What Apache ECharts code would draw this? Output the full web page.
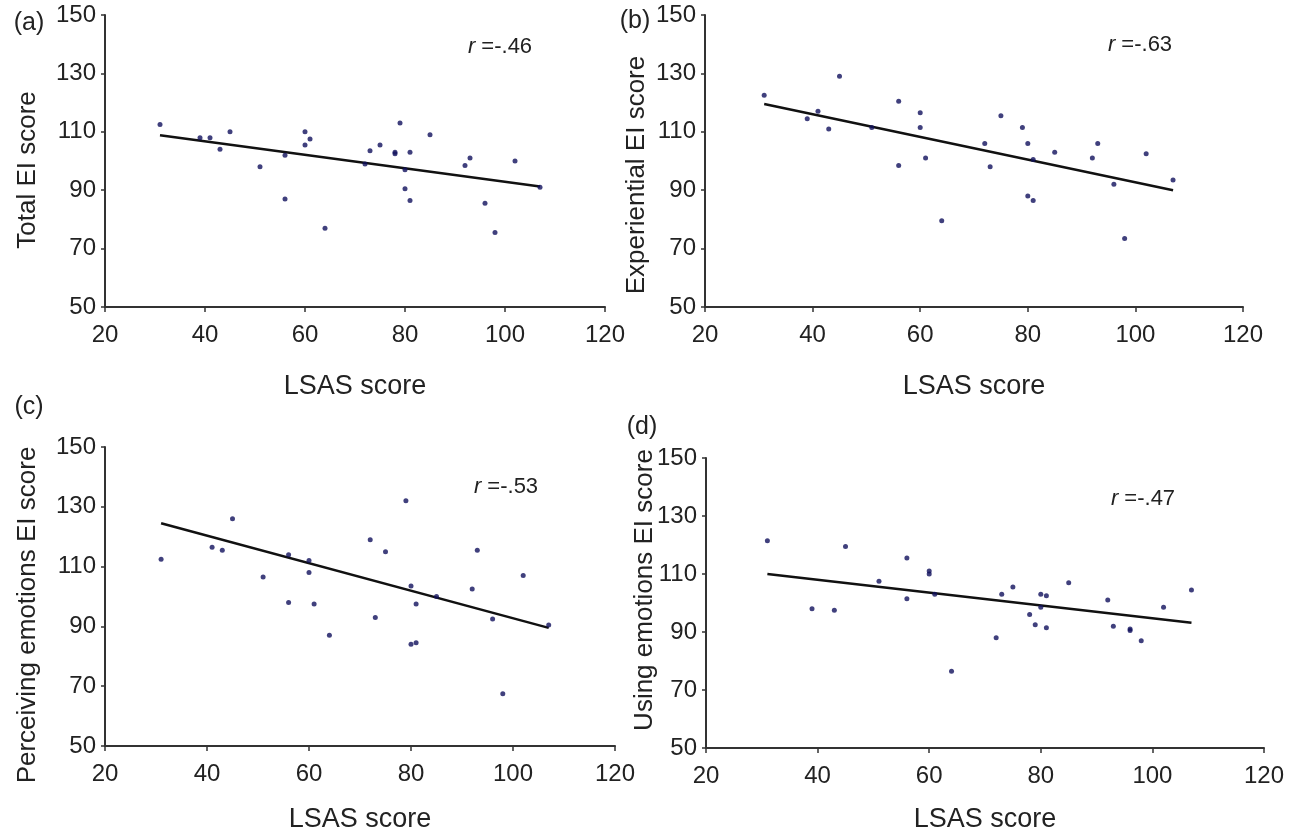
<!DOCTYPE html>
<html>
<head>
<meta charset="utf-8">
<script src="https://cdn.jsdelivr.net/npm/echarts@6/dist/echarts.min.js"></script>
<style>
  html, body { margin: 0; background: #fff; }
  #chart { width: 1293px; height: 834px; }
</style>
</head>
<body>
<div id="chart"></div>
<script>
// LSAS score (x) against EI score (y), one list per panel
var totalEI = [[31,112.5],[39,108],[41,108],[43,104],[45,110],[51,98],[56,102],[56,87],[60,110],[60,105.5],[61,107.5],[64,77],[72,99],[73,103.5],[75,105.5],[78,103],[78,102.5],[79,113],[80,97],[80,90.5],[81,103],[81,86.5],[85,109],[92,98.5],[93,101],[96,85.5],[98,75.5],[102,100],[107,91]];
var experientialEI = [[31,122.5],[39,114.5],[41,117],[43,111],[45,129],[51,111.5],[56,120.5],[56,98.5],[60,116.5],[60,111.5],[61,101],[64,79.5],[72,106],[73,98],[75,115.5],[79,111.5],[80,106],[80,88],[81,100.5],[81,86.5],[85,103],[92,101],[93,106],[96,92],[98,73.5],[102,102.5],[107,93.5]];
var perceivingEI = [[31,112.5],[41,116.5],[43,115.5],[45,126],[51,106.5],[56,114],[56,98],[60,112],[60,108],[61,97.5],[64,87],[72,119],[73,93],[75,115],[79,132],[80,103.5],[80,84],[81,84.5],[81,97.5],[85,100],[92,102.5],[93,115.5],[96,92.5],[98,67.5],[102,107],[107,90.5]];
var usingEI = [[31,121.5],[39,98],[43,97.5],[45,119.5],[51,107.5],[56,115.5],[56,101.5],[60,111],[60,110],[61,103],[64,76.5],[72,88],[73,103],[75,105.5],[78,96],[79,92.5],[80,103],[80,98.5],[81,102.5],[81,91.5],[85,107],[92,101],[93,92],[96,91],[96,90.5],[98,87],[102,98.5],[107,104.5]];

// fitted regression lines, end points
var totalFit = [[31,108.8],[107,91.3]];
var experientialFit = [[31,119.5],[107,90]];
var perceivingFit = [[31,124.5],[107,89.5]];
var usingFit = [[31,110],[107,93.2]];

var xTicks = [20, 40, 60, 80, 100, 120];
var yTicks = [50, 70, 90, 110, 130, 150];
var panelTags = ['(a)', '(b)', '(c)', '(d)'];
var rValues = ['=-.46', '=-.63', '=-.53', '=-.47'];
var yTitles = ['Total EI score', 'Experiential EI score', 'Perceiving emotions EI score', 'Using emotions EI score'];

var points = [totalEI, experientialEI, perceivingEI, usingEI];
var fits = [totalFit, experientialFit, perceivingFit, usingFit];

var font = 'Liberation Sans, Arial, sans-serif';
var ink = '#222';
var axisInk = '#333';

// plot boxes
var grids = [
  { left: 105, top: 15, width: 500, height: 292 },
  { left: 705, top: 15, width: 538, height: 292 },
  { left: 105, top: 447, width: 510, height: 302 },
  { left: 706, top: 458, width: 558, height: 293 }
];
var nameGaps = [66, 66, 60, 58];
// y title centre, panel tag, r label
var yTitlePos = [[28, 170], [637, 175], [28, 615], [645, 590]];
var tagPos = [[29, 23], [635, 21], [29, 407], [642, 427]];
var rPos = [[500, 47], [1140, 45], [506, 487], [1143, 499]];

var myChart = echarts.init(document.getElementById('chart'));

var xAxes = [], yAxes = [], series = [], graphics = [];
for (var i = 0; i < 4; i++) {
  xAxes.push({
    gridIndex: i, type: 'value',
    min: xTicks[0], max: xTicks[xTicks.length - 1], interval: xTicks[1] - xTicks[0],
    axisLine: { show: true, onZero: false, lineStyle: { color: axisInk, width: 2 } },
    axisTick: { show: true, length: 5, lineStyle: { color: axisInk, width: 1.5 } },
    axisLabel: { fontSize: 24, color: ink, margin: 16, fontFamily: font },
    splitLine: { show: false },
    name: 'LSAS score', nameLocation: 'middle', nameGap: nameGaps[i],
    nameTextStyle: { fontSize: 27, color: ink, fontFamily: font }
  });
  yAxes.push({
    gridIndex: i, type: 'value',
    min: yTicks[0], max: yTicks[yTicks.length - 1], interval: yTicks[1] - yTicks[0],
    axisLine: { show: true, onZero: false, lineStyle: { color: axisInk, width: 2 } },
    axisTick: { show: true, length: 4, lineStyle: { color: axisInk, width: 1.5 } },
    axisLabel: { fontSize: 24, color: ink, margin: 9, fontFamily: font },
    splitLine: { show: false }
  });
  series.push({
    type: 'scatter', xAxisIndex: i, yAxisIndex: i,
    data: points[i], symbolSize: 5,
    itemStyle: { color: '#10105c' }, z: 3
  });
  series.push({
    type: 'line', xAxisIndex: i, yAxisIndex: i,
    data: fits[i], symbol: 'none',
    lineStyle: { color: '#111', width: 2.5 }, z: 2
  });
  graphics.push({
    type: 'text', x: yTitlePos[i][0], y: yTitlePos[i][1], rotation: Math.PI / 2,
    style: { text: yTitles[i], font: '26px ' + font, fill: ink, textAlign: 'center', textVerticalAlign: 'middle' }
  });
  graphics.push({
    type: 'text', x: tagPos[i][0], y: tagPos[i][1],
    style: { text: panelTags[i], font: '25px ' + font, fill: ink, textAlign: 'center', textVerticalAlign: 'middle' }
  });
  graphics.push({
    type: 'text', x: rPos[i][0], y: rPos[i][1],
    style: {
      text: '{i|r} ' + rValues[i], fill: ink, textAlign: 'center', textVerticalAlign: 'middle',
      font: '22px ' + font,
      rich: { i: { fontStyle: 'italic', fontSize: 22, fontFamily: font, fill: ink } }
    }
  });
}

var option = {
  backgroundColor: '#fff',
  animation: false,
  grid: grids,
  xAxis: xAxes,
  yAxis: yAxes,
  series: series,
  graphic: graphics
};

option && myChart.setOption(option);
</script>
</body>
</html>
